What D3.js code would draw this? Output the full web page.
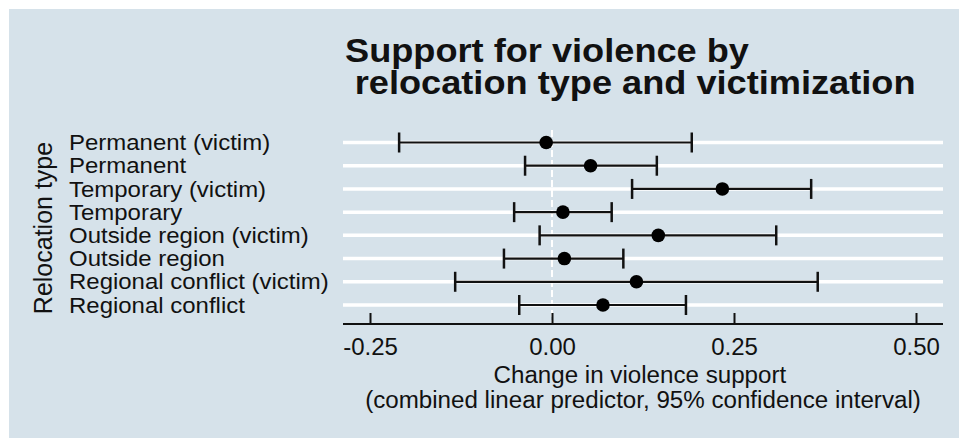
<!DOCTYPE html>
<html lang="en">
	<head>
		<meta charset="UTF-8" />
		<title>Support for violence by relocation type and victimization</title>
		<script src="https://d3js.org/d3.v7.min.js"></script>
		<style>
			body { margin: 0; background: #fff; }
			svg text { font-family: "Liberation Sans", Arial, Helvetica, sans-serif; fill: #111; }
		</style>
	</head>
	<body>
		<script>
			var w = 959;
			var h = 438;

			// values
			var labels = ["Permanent (victim)", "Permanent", "Temporary (victim)", "Temporary",
				"Outside region (victim)", "Outside region", "Regional conflict (victim)", "Regional conflict"];
			var estimates = [-0.008, 0.053, 0.234, 0.015, 0.146, 0.017, 0.116, 0.070];
			var lower = [-0.210, -0.037, 0.110, -0.052, -0.017, -0.066, -0.133, -0.045];
			var upper = [0.192, 0.144, 0.356, 0.082, 0.308, 0.098, 0.365, 0.184];
			var xTicks = [-0.25, 0, 0.25, 0.5];

			var rows = labels.map(function (d, i) {
				return { label: d, est: estimates[i], lo: lower[i], hi: upper[i] };
			});

			var plotLeft = 343, plotRight = 943, axisY = 324;

			var xScale = d3.scaleLinear().domain([-0.25, 0.5]).range([370, 916]);
			var yScale = d3.scalePoint().domain(labels).range([142.5, 305]);

			var svg = d3.select("body").append("svg")
				.attr("width", w)
				.attr("height", h);

			svg.append("rect")
				.attr("x", 9).attr("y", 9)
				.attr("width", w - 9).attr("height", h - 9)
				.attr("fill", "#d6e2ea");

			// title (text in the original is a little wider than tall)
			var title = svg.append("text")
				.attr("transform", "translate(345,0) scale(1.08,1)")
				.attr("font-size", "33.5px")
				.attr("font-weight", "bold");
			title.append("tspan").attr("x", 0).attr("y", 62).text("Support for violence by");
			title.append("tspan").attr("x", 9).attr("y", 94).text("relocation type and victimization");

			// white grid lines per row
			svg.selectAll("line.grid")
				.data(labels)
				.enter()
				.append("line")
				.attr("class", "grid")
				.attr("x1", plotLeft).attr("x2", plotRight)
				.attr("y1", function (d) { return yScale(d); })
				.attr("y2", function (d) { return yScale(d); })
				.attr("stroke", "#fff")
				.attr("stroke-width", 3.5);

			// dashed zero line
			svg.append("line")
				.attr("x1", xScale(0)).attr("x2", xScale(0))
				.attr("y1", 130).attr("y2", axisY)
				.attr("stroke", "#fff")
				.attr("stroke-width", 2)
				.attr("stroke-dasharray", "7,3");

			// category labels
			svg.append("g")
				.attr("transform", "translate(69,0) scale(1.09,1)")
				.selectAll("text.cat")
				.data(labels)
				.enter()
				.append("text")
				.attr("class", "cat")
				.attr("x", 0)
				.attr("y", function (d) { return yScale(d); })
				.attr("dy", "0.35em")
				.attr("font-size", "22px")
				.text(function (d) { return d; });

			svg.append("text")
				.attr("transform", "translate(52,228) rotate(-90)")
				.attr("text-anchor", "middle")
				.attr("font-size", "25px")
				.text("Relocation type");

			// confidence intervals
			var g = svg.append("g").attr("stroke", "#111").attr("stroke-width", 2.2);
			g.selectAll("line.ci")
				.data(rows)
				.enter()
				.append("line")
				.attr("x1", function (d) { return xScale(d.lo); })
				.attr("x2", function (d) { return xScale(d.hi); })
				.attr("y1", function (d) { return yScale(d.label); })
				.attr("y2", function (d) { return yScale(d.label); });
			g.selectAll("line.capl")
				.data(rows)
				.enter()
				.append("line")
				.attr("x1", function (d) { return xScale(d.lo); })
				.attr("x2", function (d) { return xScale(d.lo); })
				.attr("y1", function (d) { return yScale(d.label) - 10; })
				.attr("y2", function (d) { return yScale(d.label) + 10; })
				.attr("stroke-width", 2.5);
			g.selectAll("line.caph")
				.data(rows)
				.enter()
				.append("line")
				.attr("x1", function (d) { return xScale(d.hi); })
				.attr("x2", function (d) { return xScale(d.hi); })
				.attr("y1", function (d) { return yScale(d.label) - 10; })
				.attr("y2", function (d) { return yScale(d.label) + 10; })
				.attr("stroke-width", 2.5);

			svg.selectAll("circle")
				.data(rows)
				.enter()
				.append("circle")
				.attr("cx", function (d) { return xScale(d.est); })
				.attr("cy", function (d) { return yScale(d.label); })
				.attr("r", 6.8)
				.attr("fill", "#000");

			// x axis
			var xAxis = d3.axisBottom(xScale)
				.tickValues(xTicks)
				.tickFormat(function (d) { return d3.format(".2f")(d).replace("\u2212", "-"); })
				.tickSizeInner(-11)
				.tickSizeOuter(0)
				.tickPadding(14);

			var ax = svg.append("g")
				.attr("transform", "translate(0," + axisY + ")")
				.call(xAxis);
			ax.select(".domain").remove();
			ax.selectAll(".tick line").attr("stroke", "#111").attr("stroke-width", 2);
			ax.selectAll(".tick text")
				.attr("font-size", "24px")
				.attr("fill", "#111")
				.style("font-family", "'Liberation Sans', Arial, sans-serif");

			svg.append("line")
				.attr("x1", plotLeft).attr("x2", plotRight)
				.attr("y1", axisY).attr("y2", axisY)
				.attr("stroke", "#111")
				.attr("stroke-width", 2);

			var xt = svg.append("text")
				.attr("transform", "translate(643,0) scale(1.05,1)")
				.attr("text-anchor", "middle")
				.attr("font-size", "23px");
			xt.append("tspan").attr("x", -3).attr("y", 383).text("Change in violence support");
			xt.append("tspan").attr("x", 0).attr("y", 408).text("(combined linear predictor, 95% confidence interval)");
		</script>
	</body>
</html>
